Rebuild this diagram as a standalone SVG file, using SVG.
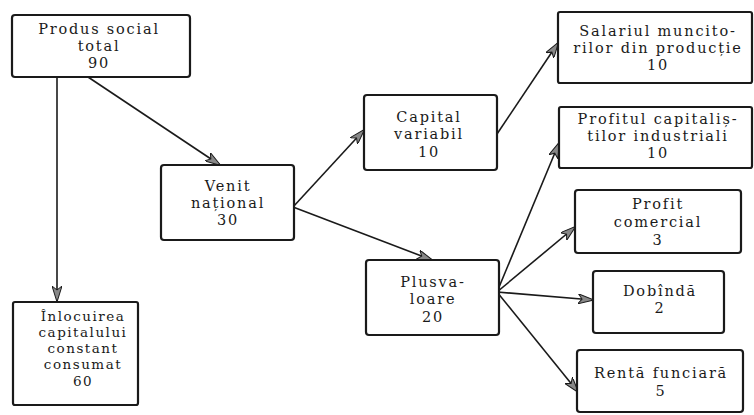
<svg xmlns="http://www.w3.org/2000/svg" width="754" height="415" viewBox="0 0 754 415">
<style>
.box{fill:#fff;stroke:#1a1a1a;stroke-width:2.2}
.t{font-family:"DejaVu Serif","Liberation Serif",serif;font-size:14.5px;letter-spacing:1.8px;fill:#1a1a1a;text-anchor:middle}
.s{font-size:13.5px;letter-spacing:1.5px}
.c{stroke:#1a1a1a;stroke-width:1.6;fill:none;marker-end:url(#ah)}
</style>
<defs>
<marker id="ah" viewBox="0 0 16 10" refX="15" refY="5" markerWidth="16" markerHeight="10" markerUnits="userSpaceOnUse" orient="auto">
<path d="M0,0 L16,5 L0,10 L4,5 Z" fill="#888" stroke="#1a1a1a" stroke-width="1"/>
</marker>
</defs>
<rect width="754" height="415" fill="#fff"/>
<g id="connectors">
<line class="c" x1="57" y1="77" x2="57" y2="301"/>
<line class="c" x1="88" y1="77" x2="220" y2="165"/>
<line class="c" x1="293" y1="207" x2="364" y2="130"/>
<line class="c" x1="293" y1="207" x2="432" y2="260"/>
<line class="c" x1="497" y1="134" x2="558" y2="43"/>
<line class="c" x1="497" y1="292" x2="559" y2="143"/>
<line class="c" x1="497" y1="292" x2="575" y2="227"/>
<line class="c" x1="497" y1="292" x2="593" y2="300"/>
<line class="c" x1="497" y1="292" x2="578" y2="392"/>
</g>
<g id="produs">
<rect class="box" x="12" y="15" width="178" height="62" rx="3"/>
<text class="t" x="99" y="34">Produs social</text>
<text class="t" x="99" y="51">total</text>
<text class="t" x="99" y="68">90</text>
</g>
<g id="venit">
<rect class="box" x="161" y="165" width="133" height="75" rx="3"/>
<text class="t" x="228" y="191">Venit</text>
<text class="t" x="228" y="208">național</text>
<text class="t" x="228" y="225">30</text>
</g>
<g id="capital">
<rect class="box" x="364" y="95" width="133" height="75" rx="3"/>
<text class="t" x="429" y="122">Capital</text>
<text class="t" x="429" y="139">variabil</text>
<text class="t" x="429" y="157">10</text>
</g>
<g id="salariul">
<rect class="box" x="558" y="12" width="194" height="71" rx="2"/>
<text class="t" x="658" y="36">Salariul muncito-</text>
<text class="t" x="658" y="53">rilor din producție</text>
<text class="t" x="658" y="70">10</text>
</g>
<g id="profitul">
<rect class="box" x="559" y="107" width="193" height="61" rx="2"/>
<text class="t" x="658" y="124">Profitul capitaliș-</text>
<text class="t" x="658" y="141">tilor industriali</text>
<text class="t" x="658" y="158">10</text>
</g>
<g id="comercial">
<rect class="box" x="575" y="190" width="166" height="63" rx="3"/>
<text class="t" x="658" y="209">Profit</text>
<text class="t" x="658" y="227">comercial</text>
<text class="t" x="658" y="245">3</text>
</g>
<g id="dobinda">
<rect class="box" x="593" y="271" width="131" height="62" rx="3"/>
<text class="t" x="660" y="296">Dobîndă</text>
<text class="t" x="660" y="313">2</text>
</g>
<g id="renta">
<rect class="box" x="577" y="350" width="166" height="62" rx="3"/>
<text class="t" x="661" y="378">Rentă funciară</text>
<text class="t" x="661" y="396">5</text>
</g>
<g id="plusvaloare">
<rect class="box" x="366" y="260" width="133" height="75" rx="3"/>
<text class="t" x="433" y="287">Plusva-</text>
<text class="t" x="433" y="304">loare</text>
<text class="t" x="433" y="322">20</text>
</g>
<g id="inlocuirea">
<rect class="box" x="13" y="302" width="125" height="103" rx="2"/>
<text class="t s" x="83" y="321">Înlocuirea</text>
<text class="t s" x="83" y="337">capitalului</text>
<text class="t s" x="83" y="353">constant</text>
<text class="t s" x="83" y="369">consumat</text>
<text class="t s" x="83" y="386">60</text>
</g>
</svg>
